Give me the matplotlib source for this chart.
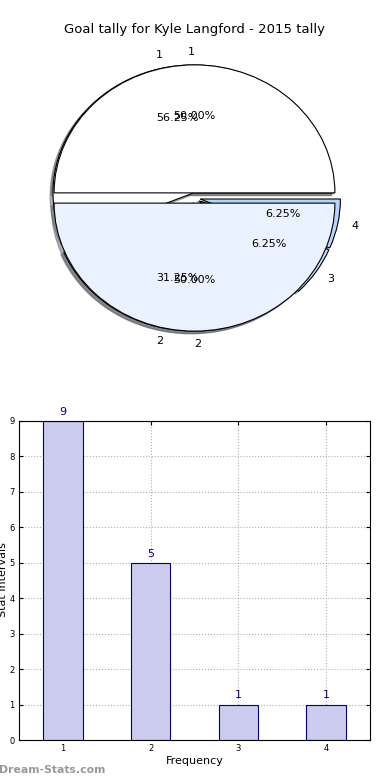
import matplotlib
matplotlib.use("Agg")
import matplotlib.pyplot as plt

title = "Goal tally for Kyle Langford - 2015 tally"
pie_labels_a = ["1", "2", "3", "4"]
pie_values_a = [9, 5, 1, 1]
pie_colors_a = ["#ffffff", "#eaf1ff", "#c2dbff", "#b7d4ff"]
pie_labels_b = ["1", "2"]
pie_values_b = [8, 8]
pie_colors_b = ["#ffffff", "#eaf1ff"]

bar_cats = [1, 2, 3, 4]
bar_vals = [9, 5, 1, 1]

fig = plt.figure(figsize=(3.9, 7.8), dpi=100)
fig.text(0.5, 1 - 30 / 780, title, ha="center", va="center", fontsize=9.5)

# Pie area
axp = fig.add_axes([19 / 390, 1 - 358 / 780, 351 / 390, 320 / 780])
wp = {"edgecolor": "black", "linewidth": 0.8}
axp.pie(pie_values_a, labels=pie_labels_a, colors=pie_colors_a, autopct="%1.2f%%",
        explode=[0.04] * 4, shadow={"ox": -0.015, "oy": -0.015, "shade": 0.6},
        wedgeprops=wp, textprops={"fontsize": 8}, counterclock=True, startangle=0)
axp.pie(pie_values_b, labels=pie_labels_b, colors=pie_colors_b, autopct="%1.2f%%",
        explode=[0.04] * 2, shadow={"ox": -0.015, "oy": -0.015, "shade": 0.6},
        wedgeprops=wp, textprops={"fontsize": 8}, counterclock=True, startangle=0)
axp.set_aspect("auto")
axp.set_xlim(-1.25, 1.25)
axp.set_ylim(-1.25, 1.25)
axp.axis("off")

# Bar chart
axb = fig.add_axes([19 / 390, 40 / 780, 351 / 390, 319 / 780])
axb.bar(bar_cats, bar_vals, width=0.45, color="#ccccee", edgecolor="#000080", linewidth=0.8, zorder=2)
for c, v in zip(bar_cats, bar_vals):
    axb.text(c, v + 0.12, str(v), ha="center", va="bottom", color="#000080", fontsize=8, clip_on=False)
axb.set_xlim(0.5, 4.5)
axb.set_ylim(0, 9)
axb.set_xticks(bar_cats)
axb.set_yticks(range(0, 10))
axb.tick_params(direction="in", labelsize=6, top=True, right=True, length=3, pad=3)
axb.grid(True, linestyle=":", color="#b0b0b0", linewidth=0.8, zorder=0)
axb.set_axisbelow(True)
axb.set_xlabel("Frequency", fontsize=8, labelpad=2)
fig.text(0.008, 1 - 580 / 780, "Stat Intervals", rotation=90, ha="center", va="center", fontsize=8)
fig.text(-0.003, 1 - 770 / 780, "Dream-Stats.com", ha="left", va="center", fontsize=7.8,
         color="#999999", fontweight="semibold")

fig.savefig("out.png", dpi=100)
